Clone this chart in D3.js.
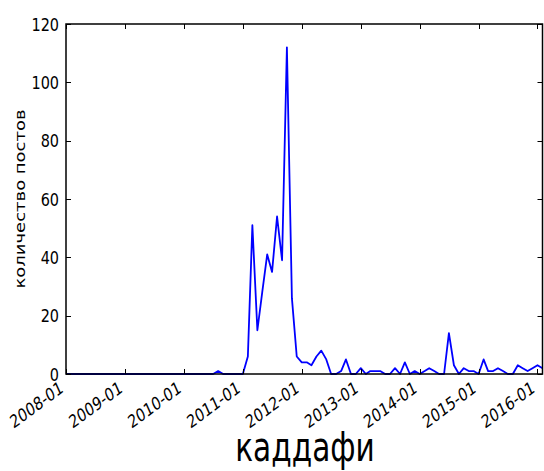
<!DOCTYPE html>
<html>
<head>
<meta charset="utf-8">
<script src="https://cdn.jsdelivr.net/npm/d3@7"></script>
<style>
  html, body { margin: 0; padding: 0; background: #fff; }
  svg { display: block; }
  text { font-family: "DejaVu Sans", sans-serif; fill: #000; }
</style>
</head>
<body>
<svg id="chart" width="544" height="471"></svg>
<script>
// Monthly post counts, one value per month starting at firstMonth
const firstMonth = "2008-01";
const postCounts = [
  // 2008
  0, 0, 0, 0, 0, 0, 0, 0, 0, 0, 0, 0,
  // 2009
  0, 0, 0, 0, 0, 0, 0, 0, 0, 0, 0, 0,
  // 2010
  0, 0, 0, 0, 0, 0, 0, 1, 0, 0, 0, 0,
  // 2011
  0, 6, 51, 15, 28, 41, 35, 54, 39, 112, 26, 6,
  // 2012
  4, 4, 3, 6, 8, 5, 0, 0, 1, 5, 0, 0,
  // 2013
  2, 0, 1, 1, 1, 0, 0, 2, 0, 4, 0, 1,
  // 2014
  0, 1, 2, 1, 0, 0, 14, 3, 0, 2, 1, 1,
  // 2015
  0, 5, 1, 1, 2, 1, 0, 0, 3, 2, 1, 2,
  // 2016
  3, 2
];
const xTickLabels = ["2008-01", "2009-01", "2010-01", "2011-01", "2012-01",
                     "2013-01", "2014-01", "2015-01", "2016-01"];
const yTicks = [0, 20, 40, 60, 80, 100, 120];
const yLabel = "количество постов";
const title = "каддафи";

const parseMonth = d3.timeParse("%Y-%m");
const start = parseMonth(firstMonth);
const series = postCounts.map((v, i) => ({ date: d3.timeMonth.offset(start, i), value: v }));

const plot = { left: 66, right: 542.5, top: 24, bottom: 374 };
const squeeze = 0.78; // horizontal compression applied to all text
const tickLen = 5;

const svg = d3.select("#chart");

const x = d3.scaleTime()
  .domain(d3.extent(series, d => d.date))
  .range([plot.left, plot.right]);
const y = d3.scaleLinear()
  .domain([0, 120])
  .range([plot.bottom, plot.top]);

const xTickDates = xTickLabels.map(parseMonth);

// data line
svg.append("path")
  .datum(series)
  .attr("fill", "none")
  .attr("stroke", "#0000ff")
  .attr("stroke-width", 1.8)
  .attr("stroke-linejoin", "round")
  .attr("d", d3.line().x(d => x(d.date)).y(d => y(d.value)));

// inward ticks on all four sides
const ticks = svg.append("g").attr("stroke", "#000").attr("stroke-width", 1);
xTickDates.forEach(d => {
  const px = Math.round(x(d)) + 0.5;
  ticks.append("line").attr("x1", px).attr("x2", px)
    .attr("y1", plot.bottom).attr("y2", plot.bottom - tickLen);
  ticks.append("line").attr("x1", px).attr("x2", px)
    .attr("y1", plot.top).attr("y2", plot.top + tickLen);
});
yTicks.forEach(v => {
  const py = Math.round(y(v)) + 0.5;
  ticks.append("line").attr("x1", plot.left).attr("x2", plot.left + tickLen)
    .attr("y1", py).attr("y2", py);
  ticks.append("line").attr("x1", plot.right).attr("x2", plot.right - tickLen)
    .attr("y1", py).attr("y2", py);
});

// frame
svg.append("rect")
  .attr("x", plot.left).attr("y", plot.top)
  .attr("width", plot.right - plot.left).attr("height", plot.bottom - plot.top)
  .attr("fill", "none").attr("stroke", "#000").attr("stroke-width", 1.5);

// y tick labels
yTicks.forEach(v => {
  svg.append("text")
    .attr("transform", `translate(${plot.left - 7},${y(v)}) scale(${squeeze},1)`)
    .attr("text-anchor", "end")
    .attr("dy", "0.36em")
    .attr("font-size", 18.5)
    .text(v);
});

// x tick labels: rotated 30°, then squeezed horizontally with the rest of the text;
// the rotated box's top-right corner sits under the tick
const xFont = 18;
const ascent = 0.73 * xFont, descent = 0.24 * xFont;
const sin30 = 0.5, cos30 = Math.sqrt(3) / 2;
const labelTop = plot.bottom + 6;
xTickDates.forEach((d, i) => {
  const ax = x(d) - squeeze * descent * sin30;
  const ay = labelTop + ascent * cos30;
  svg.append("text")
    .attr("transform", `translate(${ax},${ay}) scale(${squeeze},1) rotate(-30)`)
    .attr("text-anchor", "end")
    .attr("font-size", xFont)
    .text(xTickLabels[i]);
});

// y axis label
svg.append("text")
  .attr("transform", `translate(25,${(plot.top + plot.bottom) / 2}) scale(${squeeze},1) rotate(-90)`)
  .attr("text-anchor", "middle")
  .attr("font-size", 18)
  .text(yLabel);

// title below the axis
svg.append("text")
  .attr("transform", `translate(305,461) scale(0.74,1)`)
  .attr("text-anchor", "middle")
  .attr("font-size", 40)
  .text(title);
</script>
</body>
</html>
